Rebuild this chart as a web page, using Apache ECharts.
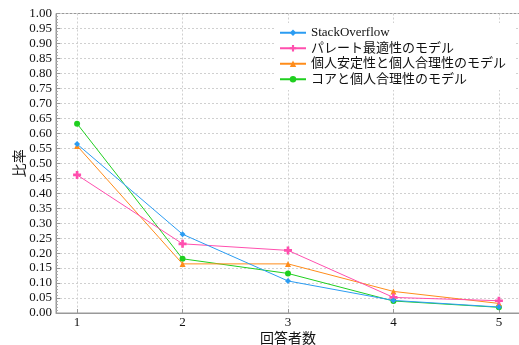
<!DOCTYPE html>
<html><head><meta charset="utf-8">
<script src="https://cdn.jsdelivr.net/npm/echarts@6/dist/echarts.min.js"></script>
<style>html,body{margin:0;padding:0;background:#fff}#c{width:519px;height:345px}</style>
</head><body><div id="c"></div>
<script>
const xValues = [1, 2, 3, 4, 5];
const yTicks = [0, 1, 0.05];
const seriesNames = ['StackOverflow', 'パレート最適性のモデル', '個人安定性と個人合理性のモデル', 'コアと個人合理性のモデル'];
const stackOverflow = [0.564, 0.263, 0.107, 0.042, 0.020];
const pareto = [0.461, 0.231, 0.209, 0.052, 0.041];
const stability = [0.558, 0.164, 0.164, 0.072, 0.032];
const core = [0.632, 0.181, 0.132, 0.040, 0.019];
const colors = ['#2b9cf2', '#ff4fae', '#ff8c1a', '#1fcf1f'];
const symbols = ['diamond', 'path://M-1,-3H1V-1H3V1H1V3H-1V1H-3V-1H-1Z', 'triangle', 'circle'];
const allData = [stackOverflow, pareto, stability, core];

const font = '"Liberation Serif", "Noto Sans CJK JP", serif';
const chart = echarts.init(document.getElementById('c'));
chart.setOption({
  animation: false,
  grid: { left: 56, right: -1, top: 13.5, bottom: 32, containLabel: false, outerBoundsMode: 'none',
          show: true, borderColor: '#999', borderWidth: 1, backgroundColor: 'transparent' },
  legend: {
    orient: 'vertical', left: 276, top: 23, itemWidth: 26, itemHeight: 8, itemGap: 0,
    backgroundColor: '#fff', padding: [2, 8, 3, 3],
    textStyle: { fontFamily: font, fontSize: 13, color: '#111', lineHeight: 15.5 },
    data: seriesNames
  },
  xAxis: {
    type: 'value', min: 0.8, max: 5.2,
    name: '回答者数', nameLocation: 'middle', nameGap: 18, nameMoveOverlap: false,
    nameTextStyle: { fontFamily: '"Noto Sans CJK JP", sans-serif', fontSize: 14, color: '#111' },
    axisLine: { show: true, lineStyle: { color: '#999' } },
    axisTick: { show: true, inside: true, length: 4, customValues: xValues, lineStyle: { color: '#999' } },
    axisLabel: { customValues: xValues, fontFamily: font, fontSize: 13, color: '#111', margin: 3 },
    splitLine: { show: true, lineStyle: { color: '#d0d0d0', type: [2, 2] } }
  },
  yAxis: {
    type: 'value', min: yTicks[0], max: yTicks[1], interval: yTicks[2],
    name: '比率', nameLocation: 'middle', nameGap: 30, nameRotate: 90, nameMoveOverlap: false,
    nameTextStyle: { fontFamily: '"Noto Sans CJK JP", sans-serif', fontSize: 14, color: '#111' },
    axisLine: { show: true, lineStyle: { color: '#999' } },
    axisTick: { show: true, inside: true, length: 4, lineStyle: { color: '#999' } },
    minorTick: { show: true, splitNumber: 5, length: 2, lineStyle: { color: '#aaa' } },
    axisLabel: { fontFamily: font, fontSize: 13, color: '#111', margin: 4, formatter: v => v.toFixed(2) },
    splitLine: { show: true, lineStyle: { color: '#d0d0d0', type: [2, 2] } }
  },
  series: seriesNames.map((n, i) => ({
    name: n, type: 'line',
    data: xValues.map((x, j) => [x, allData[i][j]]),
    symbol: symbols[i], symbolSize: i === 1 ? 8 : 6,
    lineStyle: { width: 1, color: colors[i] },
    itemStyle: { color: colors[i] },
    z: 10 - i
  }))
});
</script></body></html>
